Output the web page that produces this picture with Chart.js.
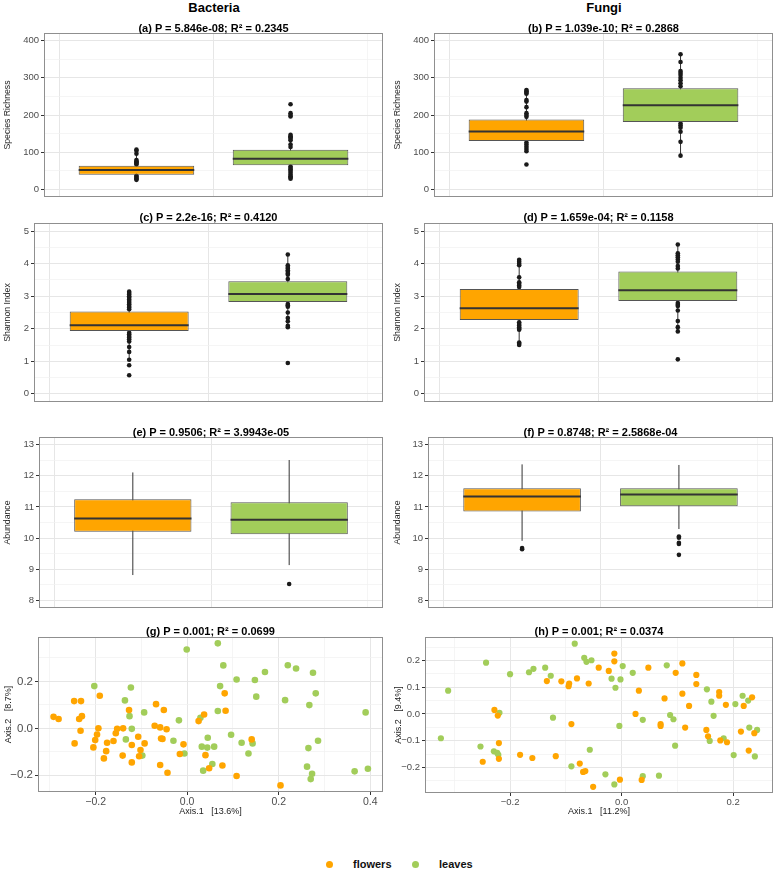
<!DOCTYPE html>
<html><head><meta charset="utf-8">
<script src="https://cdn.jsdelivr.net/npm/chart.js@4/dist/chart.umd.min.js"></script>
<style>
body{margin:0;background:#fff;width:777px;height:873px;position:relative;overflow:hidden;font-family:"Liberation Sans",Arial,sans-serif}
canvas{position:absolute}
.t{position:absolute;width:400px;text-align:center;font-weight:bold;font-size:11px;line-height:13px;color:#000;white-space:nowrap}
.h{position:absolute;width:200px;text-align:center;font-weight:bold;font-size:13px;line-height:15px;color:#000}
.lg{position:absolute;top:857px;font-weight:bold;font-size:11px;line-height:14px;color:#111}
.dot{position:absolute;width:7px;height:7px;border-radius:50%;top:861px}
</style></head><body>
<div class="h" style="left:114px;top:0px">Bacteria</div>
<div class="h" style="left:504px;top:0px">Fungi</div>
<div class="dot" style="left:326px;background:#FFA500"></div><div class="lg" style="left:353px">flowers</div>
<div class="dot" style="left:412px;background:#A2CD5A"></div><div class="lg" style="left:439px">leaves</div>
<script>
// ---------- data ----------
const groups = ['flowers', 'leaves'];
const richnessTicks = [0, 100, 200, 300, 400];
const shannonTicks = [0, 1, 2, 3, 4, 5];
const abundanceTicks = [8, 9, 10, 11, 12, 13];
const gXTicks = [-0.2, 0, 0.2, 0.4];
const gYTicks = [-0.2, 0, 0.2];
const hXTicks = [-0.2, 0, 0.2];
const hYTicks = [-0.2, -0.1, 0, 0.1, 0.2];

// box stats: [lower whisker, Q1, median, Q3, upper whisker]
const aFlowersBox = [26, 40, 52.5, 64, 96];
const aLeavesBox = [29, 65, 82.5, 107, 147];
const aFlowersPts = [107, 104, 96, 79, 76, 73, 70, 67, 37, 34, 31, 28, 26];
const aLeavesPts = [229, 205, 200, 196, 147, 143, 140, 136, 132, 121, 114, 62, 58, 54, 50, 45, 40, 36, 32, 29];

const bFlowersBox = [103, 130, 156, 188, 267];
const bLeavesBox = [91, 181, 226, 272, 363];
const bFlowersPts = [267, 264, 260, 257, 240, 236, 221, 205, 200, 195, 126, 121, 115, 109, 103, 67];
const bLeavesPts = [363, 342, 318, 313, 307, 300, 293, 285, 277, 177, 172, 166, 155, 128, 91];

const cFlowersBox = [1.05, 1.93, 2.11, 2.53, 3.14];
const cLeavesBox = [2.04, 2.82, 3.07, 3.46, 4.28];
const cFlowersPts = [3.14, 3.10, 3.05, 3.00, 2.95, 2.90, 2.85, 2.80, 2.75, 2.70, 2.65, 2.60, 1.88, 1.83, 1.78, 1.73, 1.68, 1.61, 1.44, 1.29, 1.05, 0.88, 0.57];
const cLeavesPts = [4.28, 3.95, 3.90, 3.85, 3.80, 3.75, 3.70, 3.66, 3.53, 2.76, 2.72, 2.68, 2.50, 2.33, 2.23, 2.09, 2.05, 0.95];

const dFlowersBox = [1.50, 2.27, 2.63, 3.22, 4.12];
const dLeavesBox = [1.92, 2.85, 3.18, 3.76, 4.59];
const dFlowersPts = [4.12, 4.06, 4.00, 3.95, 3.58, 3.43, 3.38, 3.33, 3.28, 2.20, 2.15, 2.10, 2.05, 2.00, 1.97, 1.58, 1.54, 1.50];
const dLeavesPts = [4.59, 4.32, 4.26, 4.20, 4.13, 4.06, 3.93, 3.85, 2.79, 2.74, 2.70, 2.56, 2.24, 2.05, 1.92, 1.06];

const eFlowersBox = [8.81, 10.20, 10.63, 11.25, 12.11];
const eLeavesBox = [9.13, 10.12, 10.59, 11.15, 12.51];
const eFlowersPts = [];
const eLeavesPts = [8.52];

const fFlowersBox = [9.91, 10.85, 11.34, 11.60, 12.37];
const fLeavesBox = [10.29, 11.02, 11.40, 11.60, 12.35];
const fFlowersPts = [9.68, 9.64];
const fLeavesPts = [10.05, 10.01, 9.85, 9.81, 9.46];

// PCoA coordinates [Axis.1, Axis.2]
const gFlowers = [[-0.292,0.049],[-0.281,0.040],[-0.247,0.116],[-0.232,0.116],[-0.236,0.040],[-0.230,0.052],[-0.233,-0.010],[-0.246,-0.064],
 [-0.191,0.139],[-0.194,0.000],[-0.197,-0.026],[-0.201,-0.050],[-0.205,-0.081],[-0.175,-0.061],[-0.177,-0.097],[-0.182,-0.128],
 [-0.161,-0.054],[-0.156,-0.021],[-0.153,-0.002],[-0.140,0.000],[-0.141,-0.116],[-0.127,0.078],[-0.121,-0.071],[-0.121,-0.145],
 [-0.107,-0.036],[-0.105,-0.119],[-0.102,-0.092],[-0.093,-0.064],[-0.068,0.103],[-0.071,0.011],[-0.059,0.004],[-0.057,-0.043],
 [-0.054,-0.045],[-0.051,0.078],[-0.045,-0.004],[-0.059,-0.156],[-0.043,-0.189],[-0.008,-0.068],[-0.016,-0.109],[0.025,0.031],
 [0.037,0.059],[0.040,-0.114],[0.048,-0.170],[0.077,-0.158],[0.082,0.149],[0.084,0.075],[0.108,-0.203],[0.141,-0.047],[0.204,-0.243]];
const gLeaves = [[-0.203,0.180],[-0.123,0.174],[-0.136,0.119],[-0.126,0.052],[-0.121,-0.002],[-0.134,-0.047],[-0.094,0.068],[-0.098,-0.116],
 [-0.001,0.336],[0.067,0.362],[0.079,0.268],[0.072,0.180],[0.067,0.074],[-0.018,0.034],[0.029,0.045],[-0.030,-0.053],
 [-0.006,-0.107],[0.032,-0.078],[0.045,-0.040],[0.044,-0.082],[0.059,-0.078],[0.055,-0.152],[0.035,-0.180],[0.096,-0.027],
 [0.119,-0.061],[0.134,-0.107],[0.143,-0.064],[0.108,0.208],[0.148,0.206],[0.151,0.135],[0.170,0.240],[0.220,0.269],
 [0.238,0.255],[0.214,0.120],[0.275,0.237],[0.281,0.149],[0.267,0.099],[0.265,-0.084],[0.286,-0.053],[0.262,-0.163],
 [0.273,-0.193],[0.270,-0.216],[0.366,-0.183],[0.390,0.068],[0.395,-0.172]];
const hFlowers = [[-0.249,-0.179],[-0.228,0.015],[-0.222,-0.006],[-0.220,-0.109],[-0.220,-0.168],[-0.182,-0.153],[-0.160,-0.165],[-0.134,0.123],
 [-0.118,-0.158],[-0.108,0.122],[-0.095,0.104],[-0.094,0.114],[-0.080,0.133],[-0.090,-0.038],[-0.075,-0.186],[-0.069,-0.217],
 [-0.065,-0.214],[-0.059,0.114],[-0.051,-0.273],[-0.041,0.173],[-0.023,0.161],[-0.013,0.226],[-0.013,0.197],[-0.003,-0.246],
 [0.025,0.000],[0.031,0.087],[0.036,-0.247],[0.048,0.173],[0.070,-0.038],[0.070,-0.045],[0.077,0.058],[0.097,0.154],
 [0.109,0.189],[0.109,0.076],[0.114,-0.051],[0.121,0.030],[0.134,0.146],[0.134,0.112],[0.152,-0.060],[0.155,-0.084],
 [0.175,0.082],[0.175,0.068],[0.177,-0.099],[0.187,0.034],[0.189,-0.106],[0.214,-0.066],[0.219,0.030],[0.228,-0.137],
 [0.234,0.062],[0.238,-0.072]];
const hLeaves = [[-0.311,0.087],[-0.324,-0.091],[-0.243,0.192],[-0.200,0.149],[-0.253,-0.122],[-0.229,-0.140],[-0.223,-0.146],[-0.221,-0.153],
 [-0.219,0.004],[-0.166,0.156],[-0.158,0.169],[-0.137,0.173],[-0.127,0.143],[-0.123,-0.014],[-0.084,0.263],[-0.067,0.210],
 [-0.063,0.195],[-0.054,0.201],[-0.057,-0.134],[-0.090,-0.196],[-0.029,-0.226],[-0.018,0.132],[-0.011,0.098],[-0.013,-0.264],
 [-0.002,0.129],[0.002,0.179],[-0.004,-0.045],[0.020,0.154],[0.038,-0.022],[0.038,-0.233],[0.067,-0.231],[0.081,0.182],
 [0.087,-0.004],[0.093,-0.020],[0.096,-0.119],[0.153,0.092],[0.161,0.046],[0.165,-0.007],[0.158,-0.101],[0.183,-0.091],
 [0.204,0.037],[0.201,-0.154],[0.217,0.068],[0.227,0.050],[0.229,-0.051],[0.243,-0.060],[0.239,-0.159]];

// ---------- styles ----------
const FONT = '"Liberation Sans", Arial, sans-serif';
const groupColors = ['#FFA500', '#A2CD5A'];
const MAJOR = '#e6e6e6', MINOR = '#f1f1f1';

function isMajor(list, v) { return list.some(m => Math.abs(m - v) < 1e-9); }
function withMinor(major, min, max) {
  const step = (major[1] - major[0]) / 2, out = [];
  for (let v = major[0] - step * 4; v <= max + 1e-9; v += step) {
    const r = Math.round(v * 1e6) / 1e6;
    if (r >= min - 1e-9) out.push(r);
  }
  return out;
}
const fmtInt = v => String(v);
const fmtDec = v => (Math.abs(v) < 1e-9 ? '0.0' : v.toFixed(1).replace('-', '\u2212'));

const framePlugin = { id: 'frame', afterDraw(chart) {
  const { ctx, chartArea: a } = chart;
  ctx.save(); ctx.strokeStyle = '#8f8f8f'; ctx.lineWidth = 1;
  ctx.strokeRect(Math.round(a.left) + 0.5, Math.round(a.top) + 0.5, Math.round(a.right - a.left) - 1, Math.round(a.bottom - a.top) - 1);
  ctx.restore();
}};

function axis(major, min, max, fmt, tickSize, isX, fitSize, title, titleSize, titlePad, showTicks) {
  const all = withMinor(major, min, max);
  return {
    type: 'linear', min, max, offset: false,
    afterBuildTicks: s => { s.ticks = all.map(v => ({ value: v })); },
    afterFit: s => {
      if (isX) { s.height = fitSize; s.paddingLeft = 0; s.paddingRight = 0; }
      else { s.width = fitSize; s.paddingTop = 0; s.paddingBottom = 0; }
    },
    ticks: { display: showTicks, autoSkip: false, maxRotation: 0, padding: isX ? 1 : 2, color: '#4d4d4d',
      font: { family: FONT, size: tickSize }, callback: v => (isMajor(major, v) ? fmt(v) : '') },
    grid: { color: c => (c.tick && isMajor(major, c.tick.value) ? MAJOR : MINOR),
      lineWidth: c => (c.tick && isMajor(major, c.tick.value) ? 1 : 0.7),
      drawTicks: showTicks, tickLength: 3, tickWidth: 1,
      tickColor: c => (c.tick && isMajor(major, c.tick.value) ? '#333' : 'rgba(0,0,0,0)') },
    border: { display: false },
    title: { display: !!title, text: title, color: '#222', font: { family: FONT, size: titleSize },
      padding: isX ? { top: 0, bottom: titlePad } : { top: titlePad, bottom: 0 } }
  };
}

function setup(p) {
  const pad = 8;
  const left = p.canvasLeft, top = p.plot[1] - pad;
  const w = p.plot[2] + pad - left, h = p.plot[3] + p.xAxisH + pad - top;
  const cv = document.createElement('canvas');
  cv.width = w; cv.height = h;
  cv.style.cssText = `left:${left}px;top:${top}px;width:${w}px;height:${h}px`;
  document.body.appendChild(cv);
  const t = document.createElement('div');
  t.className = 't'; t.textContent = p.title;
  t.style.left = ((p.plot[0] + p.plot[2]) / 2 - 200) + 'px';
  t.style.top = (p.titleY - 6.5) + 'px';
  document.body.appendChild(t);
  return { cv, pad };
}

function baseOptions(p, pad) {
  return { responsive: false, animation: false, events: [],
    layout: { autoPadding: false, padding: { top: pad, right: pad, bottom: pad, left: 0 } },
    plugins: { legend: { display: false }, tooltip: { enabled: false }, title: { display: false } } };
}

function boxPanel(p) {
  const { cv, pad } = setup(p);
  const halfW = 0.375;
  const whisk = [], med = [];
  p.boxes.forEach((b, i) => {
    const x = i + 1;
    whisk.push({ x, y: b[0] }, { x, y: b[4] }, { x, y: null });
    med.push({ x: x - halfW, y: b[2] }, { x: x + halfW, y: b[2] }, { x, y: null });
  });
  const opts = baseOptions(p, pad);
  opts.scales = {
    x: axis([1, 2], 0.4, 2.6, fmtInt, 9, true, 0, '', 9, 0, false),
    y: axis(p.yMajor, p.yMin, p.yMax, fmtInt, 9.5, false, p.plot[0] - p.canvasLeft, p.yLabel, 8.7, 2, true)
  };
  opts.scales.x.afterBuildTicks = s => { s.ticks = groups.map((g, i) => ({ value: i + 1 })); };
  new Chart(cv, {
    type: 'bar',
    data: { datasets: [
      { type: 'line', data: med, borderColor: '#333', borderWidth: 2, pointRadius: 0, spanGaps: false, order: 0 },
      { type: 'bar', data: p.boxes.map((b, i) => ({ x: i + 1, y: [b[1], b[3]] })), backgroundColor: groupColors,
        borderColor: '#555', borderWidth: 1, borderSkipped: false, grouped: false, categoryPercentage: 1, barPercentage: 0.75, order: 1 },
      { type: 'scatter', data: p.points.flatMap((arr, i) => arr.map(v => ({ x: i + 1, y: v }))),
        backgroundColor: '#1a1a1a', borderWidth: 0, pointRadius: 2.3, order: 2 },
      { type: 'line', data: whisk, borderColor: '#333', borderWidth: 1, pointRadius: 0, spanGaps: false, order: 3 }
    ] },
    options: opts,
    plugins: [framePlugin]
  });
}

function scatterPanel(p) {
  const { cv, pad } = setup(p);
  const opts = baseOptions(p, pad);
  opts.scales = {
    x: axis(p.xMajor, p.xMin, p.xMax, fmtDec, p.xTickSize, true, p.xAxisH, p.xLabel, 9, 2, true),
    y: axis(p.yMajor, p.yMin, p.yMax, fmtDec, p.yTickSize, false, p.plot[0] - p.canvasLeft, p.yLabel, 9, 3, true)
  };
  new Chart(cv, {
    type: 'scatter',
    data: { datasets: p.sets.map((s, i) => ({ label: groups[i], data: s.map(([x, y]) => ({ x, y })),
      backgroundColor: groupColors[i], borderWidth: 0, pointRadius: p.r })) },
    options: opts,
    plugins: [framePlugin]
  });
}

boxPanel({ canvasLeft: 0, plot: [44, 33, 383, 197], xAxisH: 0, titleY: 28, title: '(a) P = 5.846e-08; R\u00b2 = 0.2345',
  yLabel: 'Species Richness', yMajor: richnessTicks, yMin: -20, yMax: 420, boxes: [aFlowersBox, aLeavesBox], points: [aFlowersPts, aLeavesPts] });
boxPanel({ canvasLeft: 390, plot: [434, 33, 773, 197], xAxisH: 0, titleY: 28, title: '(b) P = 1.039e-10; R\u00b2 = 0.2868',
  yLabel: 'Species Richness', yMajor: richnessTicks, yMin: -20, yMax: 420, boxes: [bFlowersBox, bLeavesBox], points: [bFlowersPts, bLeavesPts] });
boxPanel({ canvasLeft: 0, plot: [34, 223, 383, 402], xAxisH: 0, titleY: 217.5, title: '(c) P = 2.2e-16; R\u00b2 = 0.4120',
  yLabel: 'Shannon Index', yMajor: shannonTicks, yMin: -0.25, yMax: 5.25, boxes: [cFlowersBox, cLeavesBox], points: [cFlowersPts, cLeavesPts] });
boxPanel({ canvasLeft: 390, plot: [424, 223, 773, 402], xAxisH: 0, titleY: 217.5, title: '(d) P = 1.659e-04; R\u00b2 = 0.1158',
  yLabel: 'Shannon Index', yMajor: shannonTicks, yMin: -0.25, yMax: 5.25, boxes: [dFlowersBox, dLeavesBox], points: [dFlowersPts, dLeavesPts] });
boxPanel({ canvasLeft: 0, plot: [39, 437, 383, 608], xAxisH: 0, titleY: 432.5, title: '(e) P = 0.9506; R\u00b2 = 3.9943e-05',
  yLabel: 'Abundance', yMajor: abundanceTicks, yMin: 7.75, yMax: 13.25, boxes: [eFlowersBox, eLeavesBox], points: [eFlowersPts, eLeavesPts] });
boxPanel({ canvasLeft: 390, plot: [428, 437, 773, 608], xAxisH: 0, titleY: 432.5, title: '(f) P = 0.8748; R\u00b2 = 2.5868e-04',
  yLabel: 'Abundance', yMajor: abundanceTicks, yMin: 7.75, yMax: 13.25, boxes: [fFlowersBox, fLeavesBox], points: [fFlowersPts, fLeavesPts] });

scatterPanel({ canvasLeft: 0, plot: [38, 637, 383, 792], xAxisH: 27, titleY: 631, title: '(g) P = 0.001; R\u00b2 = 0.0699',
  xLabel: 'Axis.1   [13.6%]', yLabel: 'Axis.2   [8.7%]', xMajor: gXTicks, yMajor: gYTicks,
  xMin: -0.326, xMax: 0.428, yMin: -0.271, yMax: 0.389, xTickSize: 10.5, yTickSize: 11.5, r: 3.3, sets: [gFlowers, gLeaves] });
scatterPanel({ canvasLeft: 390, plot: [425, 637, 773, 793], xAxisH: 26, titleY: 631, title: '(h) P = 0.001; R\u00b2 = 0.0374',
  xLabel: 'Axis.1   [11.2%]', yLabel: 'Axis.2   [9.4%]', xMajor: hXTicks, yMajor: hYTicks,
  xMin: -0.3525, xMax: 0.2715, yMin: -0.296, yMax: 0.288, xTickSize: 9.5, yTickSize: 9.5, r: 3.1, sets: [hFlowers, hLeaves] });
</script>
</body></html>
